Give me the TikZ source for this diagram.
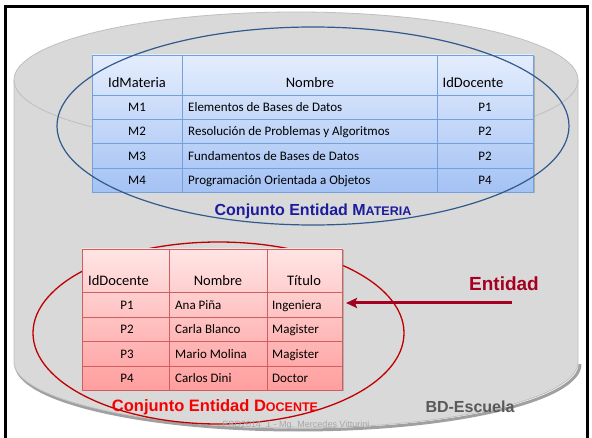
\documentclass[tikz,border=0pt]{standalone}
\usepackage{fontspec}
\setmainfont{Carlito}
\newfontfamily\arialf{Liberation Sans}
\usetikzlibrary{arrows.meta,shadows}
\definecolor{cylfill}{HTML}{D9D9D9}
\definecolor{cylline}{HTML}{BFBFBF}
\definecolor{cylshadow}{HTML}{A0A0A0}
\definecolor{blueTop}{HTML}{E4EDFD}
\definecolor{blueBot}{HTML}{A4C2F4}
\definecolor{blueLine}{HTML}{74A0DC}
\definecolor{blueEll}{HTML}{2F5A8E}
\definecolor{blueLab}{HTML}{1C1C9C}
\definecolor{redTop}{HTML}{FFE4E4}
\definecolor{redBot}{HTML}{FF9E9E}
\definecolor{redLine}{HTML}{CF5F5F}
\definecolor{redEll}{HTML}{C00000}
\definecolor{redLab}{HTML}{F80000}
\definecolor{entCol}{HTML}{A50021}
\definecolor{bdCol}{HTML}{595959}
\definecolor{footCol}{HTML}{A6A6A6}
\tikzset{
  hdr/.style={font=\fontsize{14.5}{16}\selectfont, anchor=base, inner sep=0pt},
  cellc/.style={font=\fontsize{13}{15}\selectfont, anchor=base, inner sep=0pt},
  celll/.style={font=\fontsize{13}{15}\selectfont, anchor=base west, inner sep=0pt},
  biglab/.style={font=\arialf\bfseries\fontsize{16}{18}\selectfont, anchor=base, inner sep=0pt},
  tabbox/.style={inner sep=0pt, outer sep=0pt, draw=#1Line, line width=0.8pt, top color=#1Top, bottom color=#1Bot,
     drop shadow={shadow xshift=1.5pt, shadow yshift=-1.5pt, opacity=0.35, fill=black!60}},
  gridline/.style={draw=#1Line, line width=0.8pt},
}
\begin{document}
\begin{tikzpicture}[x=1pt,y=-1pt]
\useasboundingbox (0,0) rectangle (592,438);
\fill[white] (0,0) rectangle (592,438);
% frame
\fill[black] (4,5) rectangle (7,438);
\fill[black] (4,5) rectangle (589,8);
\fill[black] (586,5) rectangle (589,438);
% cylinder shadow
\draw[cylshadow, line width=3pt] (16,364) arc[start angle=180, end angle=0, x radius=282, y radius=66];
% cylinder body
\path[fill=cylfill, draw=cylline, line width=0.8pt] (14,80) -- (14,362)
   arc[start angle=180, end angle=0, x radius=282, y radius=66] -- (578,80)
   arc[start angle=360, end angle=180, x radius=282, y radius=68] -- cycle;
\draw[cylline, line width=0.8pt] (14,80) arc[start angle=180, end angle=0, x radius=282, y radius=68];

% blue table
\node[tabbox=blue, minimum width=441pt, minimum height=137pt] (tm) at (312.5,123.5) {};
\draw[gridline=blue] (182,55) -- (182,192) (437,55) -- (437,192);
\draw[gridline=blue] (92,95) -- (533,95) (92,119) -- (533,119) (92,143) -- (533,143) (92,168) -- (533,168);
\node[hdr] (mh1) at (137,88) {IdMateria};
\node[hdr] (mh2) at (310,88) {Nombre};
\node[hdr] (mh3) at (473,88) {IdDocente};
\node[cellc] (m1a) at (137,112) {M1};
\node[celll] (m1b) at (188,112) {Elementos de Bases de Datos};
\node[cellc] (m1c) at (485,112) {P1};
\node[cellc] (m2a) at (137,136) {M2};
\node[celll] (m2b) at (188,136) {Resolución de Problemas y Algoritmos};
\node[cellc] (m2c) at (485,136) {P2};
\node[cellc] (m3a) at (137,160.5) {M3};
\node[celll] (m3b) at (188,160.5) {Fundamentos de Bases de Datos};
\node[cellc] (m3c) at (485,160.5) {P2};
\node[cellc] (m4a) at (137,185) {M4};
\node[celll] (m4b) at (188,185) {Programación Orientada a Objetos};
\node[cellc] (m4c) at (485,185) {P4};
% blue ellipse
\draw[blueEll, line width=1.2pt] (313,126) ellipse [x radius=256, y radius=99];
\node[biglab, text=blueLab] (mlab) at (313,216) {Conjunto Entidad M{\fontsize{12.5}{14}\selectfont ATERIA}};

% red ellipse (behind table)
\draw[redEll, line width=1.3pt] (218.5,333) ellipse [x radius=185.5, y radius=91];
% red table
\node[tabbox=red, minimum width=260pt, minimum height=141pt] (td) at (212,319.5) {};
\draw[gridline=red] (169,249) -- (169,390) (267,249) -- (267,390);
\draw[gridline=red] (82,292) -- (342,292) (82,317) -- (342,317) (82,341) -- (342,341) (82,366) -- (342,366);
\node[hdr, anchor=base west] (dh1) at (88,285.5) {IdDocente};
\node[hdr] (dh2) at (218,285.5) {Nombre};
\node[hdr] (dh3) at (304,285.5) {Título};
\node[cellc] (d1a) at (127,309.5) {P1};
\node[celll] (d1b) at (175,309.5) {Ana Piña};
\node[celll] (d1c) at (272,309.5) {Ingeniera};
\node[cellc] (d2a) at (127,334) {P2};
\node[celll] (d2b) at (175,334) {Carla Blanco};
\node[celll] (d2c) at (272,334) {Magister};
\node[cellc] (d3a) at (127,358.5) {P3};
\node[celll] (d3b) at (175,358.5) {Mario Molina};
\node[celll] (d3c) at (272,358.5) {Magister};
\node[cellc] (d4a) at (127,383) {P4};
\node[celll] (d4b) at (175,383) {Carlos Dini};
\node[celll] (d4c) at (272,383) {Doctor};
\node[biglab, text=redLab, font=\arialf\bfseries\fontsize{16.5}{18}\selectfont] (dlab) at (215,411) {Conjunto Entidad D{\fontsize{12.5}{14}\selectfont OCENTE}};

% Entidad arrow
\node[biglab, text=entCol, font=\arialf\bfseries\fontsize{19}{21}\selectfont] (ent) at (504,291) {Entidad};
\coordinate (arrS) at (512,303);
\coordinate (arrE) at (346,303);
\draw[entCol, line width=3pt, -{Stealth[length=11pt, width=10pt, inset=2pt]}] (arrS) -- (arrE);

% labels
\node[biglab, text=bdCol] (bd) at (470,413) {BD-Escuela};
\node[font=\arialf\fontsize{9}{10}\selectfont, text=footCol, anchor=base, inner sep=0pt] (foot) at (296,427) {EBD2014\_1 - Mg. Mercedes Vitturini};
\end{tikzpicture}
\end{document}
